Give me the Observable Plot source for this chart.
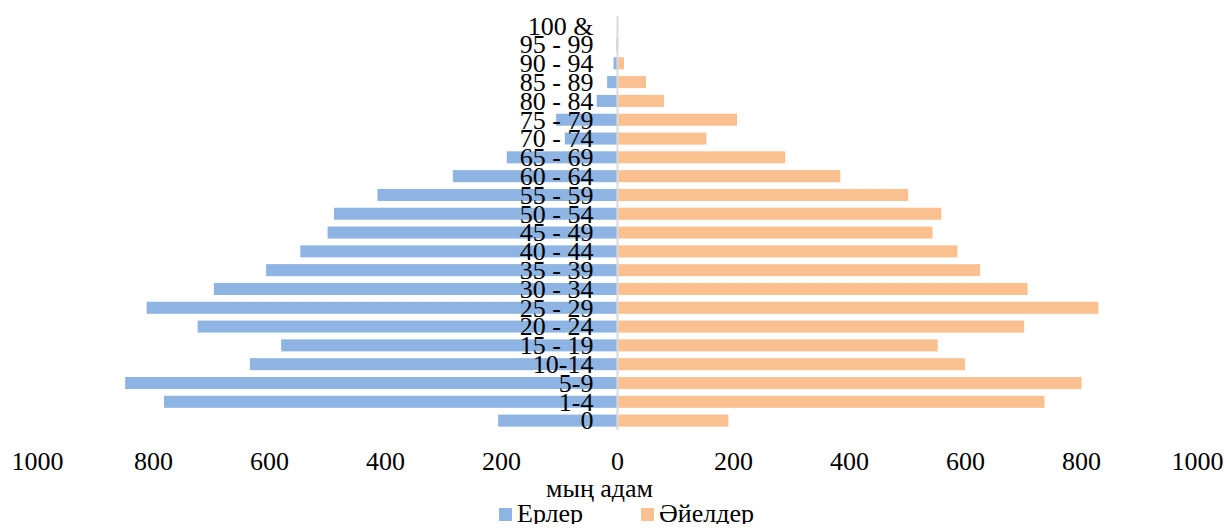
<!DOCTYPE html>
<html>
<head>
<meta charset="utf-8">
<script src="https://cdn.jsdelivr.net/npm/d3@7"></script>
<script src="https://cdn.jsdelivr.net/npm/@observablehq/plot@0.6"></script>
<style>
  html, body { margin: 0; padding: 0; background: #fff; }
  body { width: 1226px; font-family: "Liberation Serif", "Times New Roman", "DejaVu Serif", serif; }
  #chart svg { display: block; }
  .legend { height: 24px; line-height: 28px; font-size: 26px; color: #000; padding-left: 499px; white-space: nowrap; margin-top: -6px; position: relative; }
  .legend .item { display: inline-block; }
  .legend .sw { display: inline-block; width: 13px; height: 13px; vertical-align: baseline; position: relative; top: -1px; margin-right: 5px; }
</style>
</head>
<body>
<div id="chart"></div>
<div class="legend">
  <span class="item"><span class="sw" style="background:#8eb4e3"></span>Ерлер</span><span class="item" style="margin-left:58px"><span class="sw" style="background:#fac090"></span>Әйелдер</span>
</div>
<script>
// Age groups, youngest first
const ages = ["0", "1-4", "5-9", "10-14", "15 - 19", "20 - 24", "25 - 29", "30 - 34", "35 - 39", "40 - 44",
  "45 - 49", "50 - 54", "55 - 59", "60 - 64", "65 - 69", "70 - 74", "75 - 79", "80 - 84", "85 - 89",
  "90 - 94", "95 - 99", "100 &"];
// Population, thousand people
const men = [205, 781, 848, 633, 579, 723, 811, 695, 605, 546, 499, 488, 413, 283, 190, 90, 105, 35, 17, 6, 1, 0];
const women = [192, 737, 801, 600, 553, 702, 830, 708, 626, 587, 544, 559, 502, 385, 290, 154, 207, 81, 50, 12, 2, 0];
const xTicks = [-1000, -800, -600, -400, -200, 0, 200, 400, 600, 800, 1000];
const xLabel = "мың адам";

const rows = ages.map((age, i) => ({age, men: men[i], women: women[i]}));
const serif = "'Liberation Serif', 'Times New Roman', 'DejaVu Serif', serif";

const chart = Plot.plot({
  width: 1226,
  height: 506,
  marginLeft: 37,
  marginRight: 29,
  marginTop: 16.3,
  marginBottom: 76,
  style: {fontFamily: serif, fontSize: "26px", color: "#000", background: "#fff"},
  x: {domain: [-1000, 1000]},
  y: {type: "band", domain: ages.slice().reverse(), paddingInner: 0.36, paddingOuter: 0.18, round: false, axis: null},
  marks: [
    // men to the left of zero, women to the right
    Plot.barX(rows, {x: d => -d.men, y: "age", fill: "#8eb4e3"}),
    Plot.barX(rows, {x: "women", y: "age", fill: "#fac090"}),
    Plot.ruleX([0], {stroke: "#d9d9d9", strokeWidth: 2}),
    // age-group labels sit just left of the zero line, over the bars
    Plot.text(rows, {x: 0, y: "age", text: "age", dx: -24, textAnchor: "end", fill: "#000", fontSize: 26}),
    Plot.axisX({ticks: xTicks, tickFormat: d => String(Math.abs(d)), tickSize: 0, tickPadding: 21, fontSize: 26, label: null}),
    Plot.text([xLabel], {frameAnchor: "bottom", text: d => d, dx: -18, dy: 66, fontSize: 26, fill: "#000"})
  ]
});
document.getElementById("chart").appendChild(chart);
</script>
</body>
</html>
